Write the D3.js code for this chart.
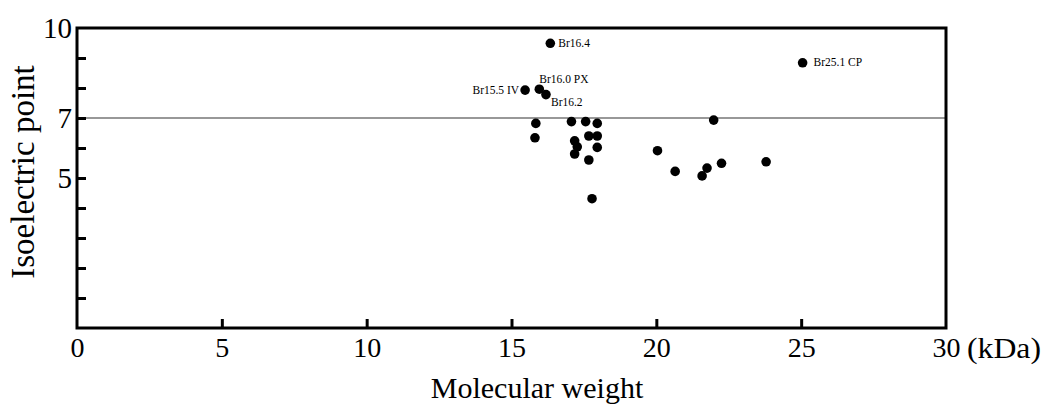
<!DOCTYPE html>
<html>
<head>
<meta charset="utf-8">
<script src="https://cdn.jsdelivr.net/npm/d3@7"></script>
<style>
  body { margin: 0; background: #fff; }
  svg text { font-family: "Liberation Serif", "Times New Roman", serif; fill: #000; }
</style>
</head>
<body>
<svg id="chart" width="1044" height="408"></svg>
<script>
// molecular weight (kDa) and isoelectric point
const mw = [16.34, 15.47, 15.96, 16.19, 25.05,
            15.84, 15.81, 17.07, 17.56, 17.96, 17.18, 17.27, 17.18,
            17.67, 17.96, 17.96, 17.67, 17.78, 20.04, 20.65, 21.58,
            21.75, 22.25, 21.98, 23.79];
const pI = [9.49, 7.93, 7.96, 7.78, 8.84,
            6.82, 6.34, 6.88, 6.88, 6.82, 6.24, 6.04, 5.80,
            6.40, 6.40, 6.02, 5.60, 4.31, 5.91, 5.22, 5.07,
            5.33, 5.49, 6.93, 5.54];
const pointNames = ["Br16.4", "Br15.5 IV", "Br16.0 PX", "Br16.2", "Br25.1 CP"];

const xTickLabels = [0, 5, 10, 15, 20, 25, 30];
const xTickMarks = [5, 10, 15, 20, 25];
const yTickLabels = [5, 7, 10];
const yTickMarks = [1, 2, 3, 4, 5, 6, 7, 8, 9];
const refLine = 7;

const svg = d3.select("#chart");
const plotL = 77, plotR = 946, plotT = 28, plotB = 328;

const x = d3.scaleLinear().domain([0, 30]).range([plotL, plotR]);
const y = d3.scaleLinear().domain([0, 10]).range([plotB, plotT]);

// reference line at pI 7
svg.append("line")
    .attr("x1", x(0)).attr("x2", x(30))
    .attr("y1", y(refLine)).attr("y2", y(refLine))
    .attr("stroke", "#333").attr("stroke-width", 1.2);

// inward tick marks
const yTicks = svg.append("g").attr("transform", `translate(${plotL},0)`)
    .call(d3.axisLeft(y).tickValues(yTickMarks).tickSize(-9).tickFormat(""));
yTicks.select(".domain").remove();
yTicks.selectAll("line").attr("stroke", "#000").attr("stroke-width", 3);

const xTicks = svg.append("g").attr("transform", `translate(0,${plotB})`)
    .call(d3.axisBottom(x).tickValues(xTickMarks).tickSize(-9).tickFormat(""));
xTicks.select(".domain").remove();
xTicks.selectAll("line").attr("stroke", "#000").attr("stroke-width", 3);

// tick labels
const yLab = svg.append("g").attr("transform", `translate(${plotL},0)`)
    .call(d3.axisLeft(y).tickValues(yTickLabels).tickSize(0).tickPadding(5));
yLab.select(".domain").remove();
yLab.selectAll("text").style("font-size", "29px")
    .style("font-family", "'Liberation Serif', serif").attr("dy", "0.34em");

const xLab = svg.append("g").attr("transform", `translate(0,${plotB})`)
    .call(d3.axisBottom(x).tickValues(xTickLabels).tickSize(0).tickPadding(9));
xLab.select(".domain").remove();
xLab.selectAll("text").style("font-size", "28px")
    .style("font-family", "'Liberation Serif', serif").attr("dy", "0.71em");

svg.append("text").attr("x", x(30) + 21).attr("y", plotB + 30)
    .style("font-size", "30px")
    .attr("textLength", 74).attr("lengthAdjust", "spacingAndGlyphs")
    .text("(kDa)");

// frame
svg.append("rect")
    .attr("x", plotL).attr("y", plotT)
    .attr("width", plotR - plotL).attr("height", plotB - plotT)
    .attr("fill", "none").attr("stroke", "#000").attr("stroke-width", 3);

// points
svg.append("g").selectAll("circle")
    .data(mw.map((m, i) => ({ m, p: pI[i], i })))
    .join("circle")
    .attr("cx", d => x(d.m)).attr("cy", d => y(d.p))
    .attr("r", 4.8).attr("fill", "#000");

// point labels (offsets in px from the point)
const placement = {
  "Br16.4":    { dx: 8,  dy: 4,   anchor: "start" },
  "Br15.5 IV": { dx: -6, dy: 3.5, anchor: "end" },
  "Br16.0 PX": { dx: 0,  dy: -6,  anchor: "start" },
  "Br16.2":    { dx: 5,  dy: 11,  anchor: "start" },
  "Br25.1 CP": { dx: 11, dy: 3.5, anchor: "start" }
};
svg.append("g").selectAll("text")
    .data(pointNames.map((n, i) => ({ n, m: mw[i], p: pI[i] })))
    .join("text")
    .attr("x", d => x(d.m) + placement[d.n].dx)
    .attr("y", d => y(d.p) + placement[d.n].dy)
    .attr("text-anchor", d => placement[d.n].anchor)
    .style("font-size", "11.5px")
    .text(d => d.n);

// axis titles
svg.append("text")
    .attr("transform", "translate(34,172) rotate(-90)")
    .attr("text-anchor", "middle")
    .style("font-size", "33px")
    .text("Isoelectric point");

svg.append("text")
    .attr("x", 537).attr("y", 398)
    .attr("text-anchor", "middle")
    .style("font-size", "30px")
    .text("Molecular weight");
</script>
</body>
</html>
